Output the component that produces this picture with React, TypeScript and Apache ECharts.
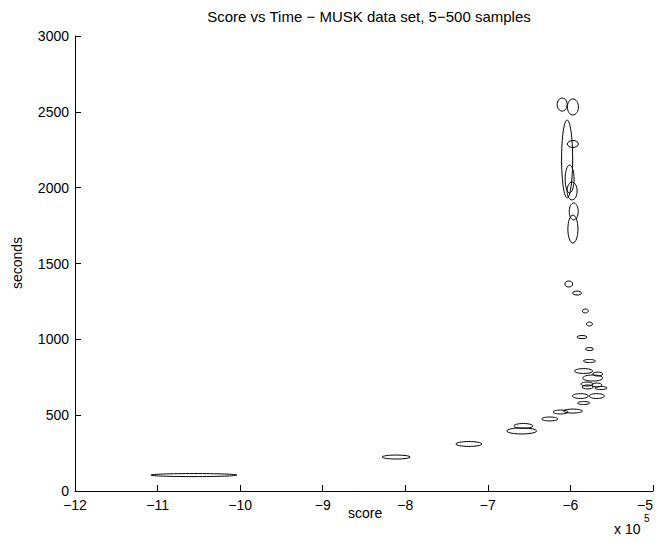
import React, { useEffect, useRef } from "react";
import * as echarts from "echarts";

// Score values are in units of 10^5
const scoreCenter = [
  -10.56, -8.11, -7.23, -6.59, -6.57, -6.25, -6.12, -5.97, -5.84, -5.88, -5.68,
  -5.63, -5.68, -5.79, -5.8, -5.73, -5.67, -5.84, -5.77, -5.77, -5.86, -5.77,
  -5.82, -5.92, -6.02, -5.97, -5.96, -5.98, -6.01, -6.04, -5.97, -6.1, -5.97,
];
const secondsCenter = [
  105, 224, 310, 396, 429, 475, 521, 527, 580, 626, 626, 679, 699, 686, 705, 745,
  771, 791, 857, 936, 1015, 1101, 1187, 1305, 1365, 1727, 1843, 1978, 2057, 2189,
  2288, 2548, 2532,
];
const scoreHalfWidth = [
  0.52, 0.17, 0.157, 0.18, 0.115, 0.097, 0.091, 0.115, 0.073, 0.097, 0.091,
  0.073, 0.061, 0.067, 0.073, 0.121, 0.061, 0.109, 0.073, 0.048, 0.061, 0.036,
  0.036, 0.054, 0.048, 0.061, 0.054, 0.061, 0.054, 0.067, 0.067, 0.061, 0.067,
];
const secondsHalfHeight = [
  10, 13, 16, 20, 16, 13, 13, 13, 10, 16, 16, 10, 13, 13, 13, 20, 13, 16, 10, 10,
  10, 13, 13, 13, 20, 92, 56, 59, 92, 257, 23, 43, 53,
];

const xTicks = [-12, -11, -10, -9, -8, -7, -6, -5];
const yTicks = [0, 500, 1000, 1500, 2000, 2500, 3000];

const FONT = "'Liberation Sans', Arial, Helvetica, sans-serif";

export default function App() {
  const ref = useRef<HTMLDivElement>(null);
  useEffect(() => {
    document.body.style.margin = "0";
    const chart = echarts.init(ref.current!, null, { renderer: "svg" });
    const data = scoreCenter.map((x, i) => [
      x,
      secondsCenter[i],
      scoreHalfWidth[i],
      secondsHalfHeight[i],
    ]);
    chart.setOption({
      animation: false,
      backgroundColor: "#fff",
      title: {
        text: "Score vs Time − MUSK data set, 5−500 samples",
        left: 364,
        top: 4,
        textAlign: "center",
        textStyle: { fontFamily: FONT, fontSize: 15, fontWeight: "normal", color: "#000" },
      },
      grid: { left: 75, right: 6, top: 36, bottom: 51, containLabel: false, outerBoundsMode: "none" },
      xAxis: {
        type: "value",
        min: xTicks[0],
        max: xTicks[xTicks.length - 1],
        interval: 1,
        splitLine: { show: false },
        axisLine: { show: true, onZero: false, lineStyle: { color: "#000", width: 1 } },
        axisTick: { show: true, inside: true, length: 6, lineStyle: { color: "#000" } },
        axisLabel: {
          color: "#000",
          fontFamily: FONT,
          fontSize: 14,
          margin: 7,
          alignMaxLabel: "right",
          formatter: (v: number) => String(v).replace("-", "\u2212"),
        },
      },
      yAxis: {
        type: "value",
        min: yTicks[0],
        max: yTicks[yTicks.length - 1],
        interval: 500,
        splitLine: { show: false },
        axisLine: { show: true, onZero: false, lineStyle: { color: "#000", width: 1 } },
        axisTick: { show: true, inside: true, length: 6, lineStyle: { color: "#000" } },
        axisLabel: {
          color: "#000",
          fontFamily: FONT,
          fontSize: 14,
          margin: 6,
          formatter: (v: number) => String(v),
        },
      },
      graphic: [
        {
          type: "text",
          left: 348,
          top: 506,
          style: { text: "score", font: `14px ${FONT}`, fill: "#000" },
        },
        {
          type: "text",
          x: 17,
          y: 263,
          rotation: Math.PI / 2,
          style: {
            text: "seconds",
            font: `14px ${FONT}`,
            fill: "#000",
            align: "center",
            verticalAlign: "middle",
          },
        },
        {
          type: "text",
          x: 614,
          y: 522,
          style: { text: "x 10", font: `14px ${FONT}`, fill: "#000" },
        },
        {
          type: "text",
          x: 644,
          y: 513,
          style: { text: "5", font: `10px ${FONT}`, fill: "#000" },
        },
      ],
      series: [
        {
          type: "custom",
          encode: { x: 0, y: 1 },
          data,
          renderItem: (params: any, api: any) => {
            const c = api.coord([api.value(0), api.value(1)]);
            const s = api.size([api.value(2), api.value(3)]);
            return {
              type: "ellipse",
              shape: { cx: c[0], cy: c[1], rx: s[0], ry: s[1] },
              style: { fill: "none", stroke: "#000", lineWidth: 1 },
            };
          },
        },
      ],
    });
    return () => chart.dispose();
  }, []);
  return (
    <div
      ref={ref}
      style={{ position: "fixed", left: 0, top: 0, width: 659, height: 542 }}
    />
  );
}
